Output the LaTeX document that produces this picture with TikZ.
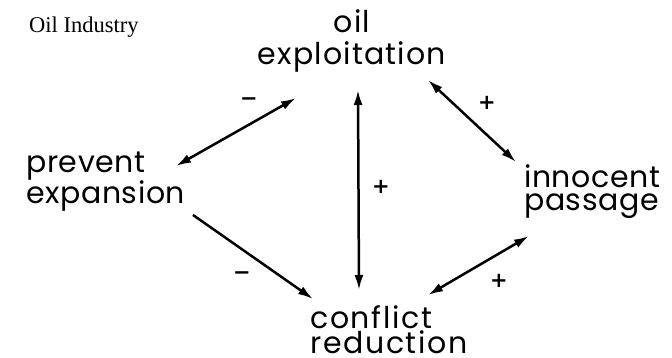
\documentclass[tikz,border=0pt]{standalone}
\usepackage{fontspec}
\setmainfont{Poppins}[LetterSpace=2]
\newfontfamily\titlefont{Liberation Serif}
\newfontfamily\signfont{DejaVu Sans}
\usetikzlibrary{arrows.meta}
\begin{document}
\begin{tikzpicture}[x=1pt,y=-1pt,
  lbl/.style={inner sep=0pt, align=left, font=\fontsize{30}{23}\selectfont},
  sign/.style={inner sep=0pt, font=\signfont\bfseries\fontsize{21}{21}\selectfont},
  link/.style={line width=2.5pt, {Latex[length=15pt,width=9pt]}-{Latex[length=15pt,width=9pt]}},
  onelink/.style={line width=2.5pt, -{Latex[length=15pt,width=9pt]}}]
\useasboundingbox (0,0) rectangle (672,358);
\node[inner sep=0pt, anchor=base west, font=\titlefont\fontsize{22.5}{22.5}\selectfont] (title) at (29,33) {Oil Industry};
\node[lbl, align=center, anchor=base, font=\addfontfeatures{LetterSpace=4}\fontsize{30}{32}\selectfont] (oil) at (352,65) {oil\\exploitation};
\node[lbl, anchor=base west] (prev) at (26,204) {prevent\\expansion};
\node[lbl, anchor=base west] (inno) at (524,211) {innocent\\passage};
\node[lbl, anchor=base west, font=\addfontfeatures{LetterSpace=5.5}\fontsize{30}{23}\selectfont] (conf) at (310,353) {conflict\\reduction};
\coordinate (a1s) at (176,166); \coordinate (a1e) at (296,98);
\coordinate (a2s) at (358,90);  \coordinate (a2e) at (359,290);
\coordinate (a3s) at (428,80);  \coordinate (a3e) at (516,162);
\coordinate (a4s) at (193,215); \coordinate (a4e) at (313,299);
\coordinate (a5s) at (428,295); \coordinate (a5e) at (529,236);
\draw[link] (a1s) -- (a1e);
\draw[link] (a2s) -- (a2e);
\draw[link] (a3s) -- (a3e);
\draw[onelink] (a4s) -- (a4e);
\draw[link] (a5s) -- (a5e);
\node[sign] (s1) at (249,102) {−};
\node[sign] (s2) at (487,103) {+};
\node[sign] (s3) at (381,187) {+};
\node[sign] (s4) at (242,276) {−};
\node[sign] (s5) at (499,281) {+};
\end{tikzpicture}
\end{document}
